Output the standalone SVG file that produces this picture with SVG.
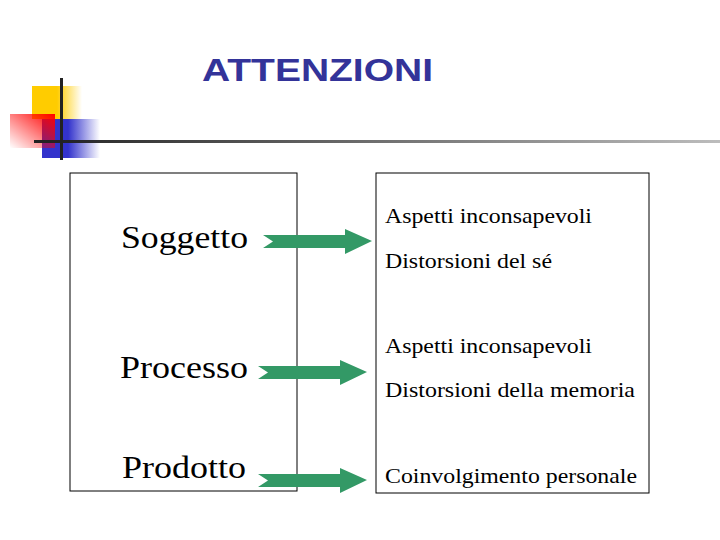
<svg xmlns="http://www.w3.org/2000/svg" width="720" height="540" viewBox="0 0 720 540">
<defs>
<linearGradient id="gy" x1="0" x2="1" y1="0" y2="0"><stop offset="0.5" stop-color="#ffcc00"/><stop offset="1" stop-color="#ffcc00" stop-opacity="0"/></linearGradient>
<linearGradient id="gb" x1="0" x2="1" y1="0" y2="0"><stop offset="0.45" stop-color="#3333cc"/><stop offset="1" stop-color="#3333cc" stop-opacity="0"/></linearGradient>
<linearGradient id="gr" x1="1" x2="0" y1="0" y2="1"><stop offset="0" stop-color="#ff0000"/><stop offset="1" stop-color="#ff0000" stop-opacity="0"/></linearGradient>
<linearGradient id="gl" x1="0" x2="1" y1="0" y2="0"><stop offset="0" stop-color="#222"/><stop offset="1" stop-color="#222" stop-opacity="0.3"/></linearGradient>
<path id="arr" d="M0,0 H82 V-6 L109,6 L82,19 V13 H0 L10,6.5 Z" fill="#339966"/>
</defs>
<style>.t{font-family:"Liberation Serif",serif;fill:#000}.box{fill:none;stroke:#000;stroke-width:1}</style>
<g id="logo">
<rect x="32" y="86" width="50" height="33" fill="url(#gy)"/>
<rect x="42" y="119" width="58" height="39" fill="url(#gb)"/>
<rect x="10" y="114" width="45" height="34" fill="url(#gr)"/>
<rect x="60" y="78" width="3" height="82" fill="#222"/>
<rect x="34" y="140" width="686" height="3" fill="url(#gl)"/>
</g>
<text x="202" y="81" textLength="231" lengthAdjust="spacingAndGlyphs" style="font-family:'Liberation Sans',sans-serif;font-weight:bold;font-size:32px;fill:#333399">ATTENZIONI</text>
<g id="left"><rect class="box" x="70" y="173" width="227" height="318"/>
<text class="t" x="121" y="248" font-size="32" textLength="127" lengthAdjust="spacingAndGlyphs">Soggetto</text>
<text class="t" x="120" y="378" font-size="32" textLength="128" lengthAdjust="spacingAndGlyphs">Processo</text>
<text class="t" x="122" y="478" font-size="32" textLength="124" lengthAdjust="spacingAndGlyphs">Prodotto</text></g>
<g id="right"><rect class="box" x="376" y="173" width="273" height="320"/>
<text class="t" x="385" y="223" font-size="21" textLength="207" lengthAdjust="spacingAndGlyphs">Aspetti inconsapevoli</text>
<text class="t" x="385" y="268" font-size="21" textLength="167" lengthAdjust="spacingAndGlyphs">Distorsioni del sé</text>
<text class="t" x="385" y="353" font-size="21" textLength="207" lengthAdjust="spacingAndGlyphs">Aspetti inconsapevoli</text>
<text class="t" x="385" y="397" font-size="21" textLength="250" lengthAdjust="spacingAndGlyphs">Distorsioni della memoria</text>
<text class="t" x="385" y="483" font-size="21" textLength="252" lengthAdjust="spacingAndGlyphs">Coinvolgimento personale</text></g>
<g id="connectors">
<use href="#arr" x="263" y="235"/>
<use href="#arr" x="258" y="366"/>
<use href="#arr" x="258" y="474"/>
</g>
</svg>
